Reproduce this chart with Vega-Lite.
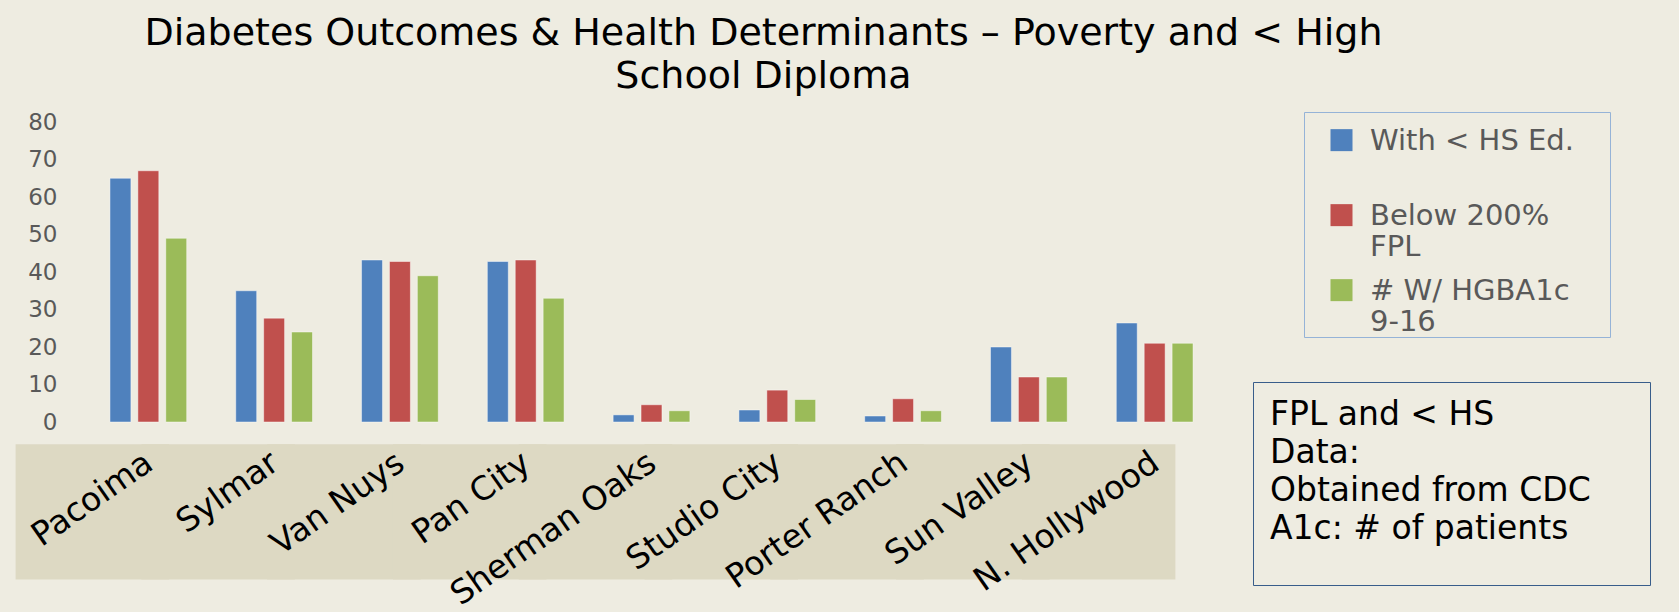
{
  "$schema": "https://vega.github.io/schema/vega-lite/v6.json",
  "autosize": {"type": "none"},
  "width": 1153,
  "height": 480,
  "padding": {"left": 75, "top": 122, "right": 451, "bottom": 10},
  "background": "#EEECE1",
  "title": {
    "text": ["Diabetes Outcomes & Health Determinants – Poverty and < High", "School Diploma"],
    "font": "DejaVu Sans",
    "fontSize": 38,
    "fontWeight": "normal",
    "color": "#000000",
    "lineHeight": 43,
    "anchor": "middle",
    "frame": "group",
    "dx": 112,
    "offset": 15
  },
  "datasets": {
    "bars": [
      {"district": "Pacoima", "measure": "With < HS Ed.", "value": 65},
      {"district": "Pacoima", "measure": "Below 200% FPL", "value": 67},
      {"district": "Pacoima", "measure": "# W/ HGBA1c 9-16", "value": 49},
      {"district": "Sylmar", "measure": "With < HS Ed.", "value": 35},
      {"district": "Sylmar", "measure": "Below 200% FPL", "value": 27.7},
      {"district": "Sylmar", "measure": "# W/ HGBA1c 9-16", "value": 24},
      {"district": "Van Nuys", "measure": "With < HS Ed.", "value": 43.2},
      {"district": "Van Nuys", "measure": "Below 200% FPL", "value": 42.8},
      {"district": "Van Nuys", "measure": "# W/ HGBA1c 9-16", "value": 39},
      {"district": "Pan City", "measure": "With < HS Ed.", "value": 42.8},
      {"district": "Pan City", "measure": "Below 200% FPL", "value": 43.2},
      {"district": "Pan City", "measure": "# W/ HGBA1c 9-16", "value": 33},
      {"district": "Sherman Oaks", "measure": "With < HS Ed.", "value": 1.9},
      {"district": "Sherman Oaks", "measure": "Below 200% FPL", "value": 4.6},
      {"district": "Sherman Oaks", "measure": "# W/ HGBA1c 9-16", "value": 3},
      {"district": "Studio City", "measure": "With < HS Ed.", "value": 3.2},
      {"district": "Studio City", "measure": "Below 200% FPL", "value": 8.5},
      {"district": "Studio City", "measure": "# W/ HGBA1c 9-16", "value": 6},
      {"district": "Porter Ranch", "measure": "With < HS Ed.", "value": 1.6},
      {"district": "Porter Ranch", "measure": "Below 200% FPL", "value": 6.2},
      {"district": "Porter Ranch", "measure": "# W/ HGBA1c 9-16", "value": 3},
      {"district": "Sun Valley", "measure": "With < HS Ed.", "value": 20},
      {"district": "Sun Valley", "measure": "Below 200% FPL", "value": 12},
      {"district": "Sun Valley", "measure": "# W/ HGBA1c 9-16", "value": 12},
      {"district": "N. Hollywood", "measure": "With < HS Ed.", "value": 26.4},
      {"district": "N. Hollywood", "measure": "Below 200% FPL", "value": 21},
      {"district": "N. Hollywood", "measure": "# W/ HGBA1c 9-16", "value": 21}
    ],
    "districts": [
      {"district": "Pacoima"},
      {"district": "Sylmar"},
      {"district": "Van Nuys"},
      {"district": "Pan City"},
      {"district": "Sherman Oaks"},
      {"district": "Studio City"},
      {"district": "Porter Ranch"},
      {"district": "Sun Valley"},
      {"district": "N. Hollywood"}
    ]
  },
  "layer": [
    {
      "data": {"name": "districts"},
      "mark": {"type": "bar", "color": "#DDD9C3", "width": {"band": 2.0}, "xOffset": -56},
      "encoding": {
        "x": {"field": "district", "type": "nominal", "sort": null, "axis": null, "scale": {"paddingInner": 0.39, "paddingOuter": 0.278}},
        "y": {"datum": -5.9, "type": "quantitative", "title": null},
        "y2": {"datum": -42},
        "opacity": {
          "datum": 1,
          "type": "quantitative",
          "scale": {"domain": [0, 1], "range": [1, 1]},
          "legend": {
            "title": ["FPL and < HS", "Data:", "Obtained from CDC", "A1c: # of patients"],
            "values": [1],
            "orient": "none",
            "legendX": 1178,
            "legendY": 260,
            "titleFont": "DejaVu Sans",
            "titleFontSize": 33,
            "titleFontWeight": "normal",
            "titleColor": "#000000",
            "titleLineHeight": 38,
            "titleLimit": 1000,
            "titlePadding": 0,
            "labelExpr": "''",
            "labelFontSize": 22,
            "symbolType": "M0,-1L0,1",
            "symbolStrokeWidth": 0,
            "symbolStrokeColor": "transparent",
            "symbolFillColor": "transparent",
            "symbolSize": 256,
            "symbolOffset": 337,
            "padding": 17,
            "strokeColor": "#385D8A",
            "encode": {
              "legend": {"update": {"strokeWidth": {"value": 2}}},
              "symbols": {"update": {"opacity": {"value": 0}, "fill": {"value": "transparent"}}}
            }
          }
        }
      }
    },
    {
      "data": {"name": "districts"},
      "mark": {"type": "text", "angle": 325, "align": "right", "baseline": "top", "dx": -10, "font": "DejaVu Sans", "fontSize": 33, "color": "#000000"},
      "encoding": {
        "x": {"field": "district", "type": "nominal", "sort": null, "axis": null, "scale": {"paddingInner": 0.39, "paddingOuter": 0.278}},
        "y": {"datum": -5, "type": "quantitative", "title": null},
        "text": {"field": "district"}
      }
    },
    {
      "data": {"name": "bars"},
      "mark": {"type": "bar", "stroke": "#FFFFFF", "strokeOpacity": 0.45, "strokeWidth": 1},
      "encoding": {
        "x": {"field": "district", "type": "nominal", "sort": null, "axis": null, "scale": {"paddingInner": 0.39, "paddingOuter": 0.278}},
        "xOffset": {"field": "measure", "type": "nominal", "sort": null, "scale": {"paddingInner": 0.25, "paddingOuter": 0}},
        "y": {
          "field": "value",
          "type": "quantitative",
          "scale": {"domain": [-48, 80], "nice": false, "zero": false},
          "axis": {
            "title": null,
            "values": [0, 10, 20, 30, 40, 50, 60, 70, 80],
            "domain": false,
            "ticks": false,
            "labelFont": "DejaVu Sans",
            "labelFontSize": 23,
            "labelColor": "#595959",
            "labelPadding": 18,
            "gridColor": "#D9D9D9",
            "gridWidth": 1.2
          }
        },
        "color": {
          "field": "measure",
          "type": "nominal",
          "sort": null,
          "scale": {
            "domain": ["With < HS Ed.", "Below 200% FPL", "# W/ HGBA1c 9-16"],
            "range": ["#4F81BD", "#C0504D", "#9BBB59"]
          },
          "legend": {
            "title": "\u00a0",
            "titleOrient": "right",
            "titlePadding": 36,
            "titleFontSize": 10,
            "orient": "none",
            "legendX": 1229,
            "legendY": -10,
            "direction": "vertical",
            "symbolType": "M-1,0.24H1V2.24H-1Z",
            "symbolSize": 484,
            "symbolStrokeWidth": 0,
            "symbolOffset": 23,
            "labelFont": "DejaVu Sans",
            "labelFontSize": 29,
            "labelColor": "#595959",
            "labelOffset": 14,
            "labelLimit": 500,
            "labelBaseline": "top",
            "labelExpr": "datum.label == 'Below 200% FPL' ? ['Below 200%', 'FPL'] : datum.label == '# W/ HGBA1c 9-16' ? ['# W/ HGBA1c', '9-16'] : [datum.label, ' ']",
            "padding": 0,
            "rowPadding": 0,
            "strokeColor": "#95B3D7",
            "encode": {"labels": {"update": {"lineHeight": {"value": 37}}}}
          }
        }
      }
    }
  ],
  "config": {
    "view": {"stroke": null}
  }
}
